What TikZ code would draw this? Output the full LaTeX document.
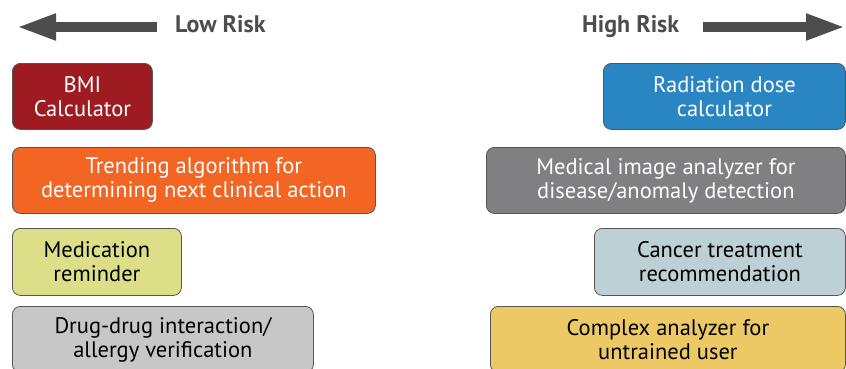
\documentclass[tikz,border=0pt]{standalone}
\usepackage{fontspec}
\setmainfont{PT Sans}
\usetikzlibrary{arrows.meta}
\definecolor{arrowgray}{HTML}{4D4D4F}
\definecolor{boxline}{HTML}{555555}
\definecolor{bmired}{HTML}{9E1C21}
\definecolor{trendorange}{HTML}{F26522}
\definecolor{remindgreen}{HTML}{DCDF87}
\definecolor{druggray}{HTML}{C6C7C6}
\definecolor{radblue}{HTML}{2A86C2}
\definecolor{imggray}{HTML}{807F81}
\definecolor{cancerblue}{HTML}{BDD0D5}
\definecolor{complexgold}{HTML}{EDC966}

\begin{document}
\begin{tikzpicture}[x=1pt, y=-1pt,
    riskbox/.style={draw=boxline, line width=0.8pt, rounded corners=8pt,
      anchor=north west, inner sep=0pt, align=center, minimum height=66,
      font=\fontsize{22.5}{24}\selectfont},
    riskarrow/.style={draw=arrowgray, line width=10pt,
      -{Triangle[length=40pt,width=24pt]}},
    risklabel/.style={anchor=base west, inner sep=0pt, text=arrowgray,
      font=\fontsize{24}{28}\selectfont\bfseries}]
    \useasboundingbox (0,0) rectangle (846,368);

    % risk direction
    \node[risklabel] (low) at (175,32) {Low Risk};
    \node[risklabel] (high) at (582,32) {High Risk};
    \coordinate (lowtail) at (157,27);
    \coordinate (lowtip) at (16,27);
    \coordinate (hightail) at (703,27);
    \coordinate (hightip) at (846,27);
    \draw[riskarrow] (lowtail) -- (lowtip);
    \draw[riskarrow] (hightail) -- (hightip);

    % low risk boxes
    \node[riskbox, fill=bmired, text=white, minimum width=140] (bmi)
      at (12,63) {BMI\\Calculator};
    \node[riskbox, fill=trendorange, text=white, minimum width=363] (trend)
      at (12,147) {Trending algorithm for\\determining next clinical action};
    \node[riskbox, fill=remindgreen, minimum width=169, minimum height=67] (medrem)
      at (12,228) {Medication\\reminder};
    \node[riskbox, fill=druggray, minimum width=301] (drugcheck)
      at (12,306) {Drug-drug interaction/\\allergy verification};

    % high risk boxes
    \node[riskbox, fill=radblue, text=white, minimum width=242] (raddose)
      at (603,63) {Radiation dose\\calculator};
    \node[riskbox, fill=imggray, text=white, minimum width=359] (imgscan)
      at (486,147) {Medical image analyzer for\\disease/anomaly detection};
    \node[riskbox, fill=cancerblue, minimum width=251, minimum height=67] (cancer)
      at (594,228) {Cancer treatment\\recommendation};
    \node[riskbox, fill=complexgold, minimum width=355] (complex)
      at (490,306) {Complex analyzer for\\untrained user};
\end{tikzpicture}
\end{document}
